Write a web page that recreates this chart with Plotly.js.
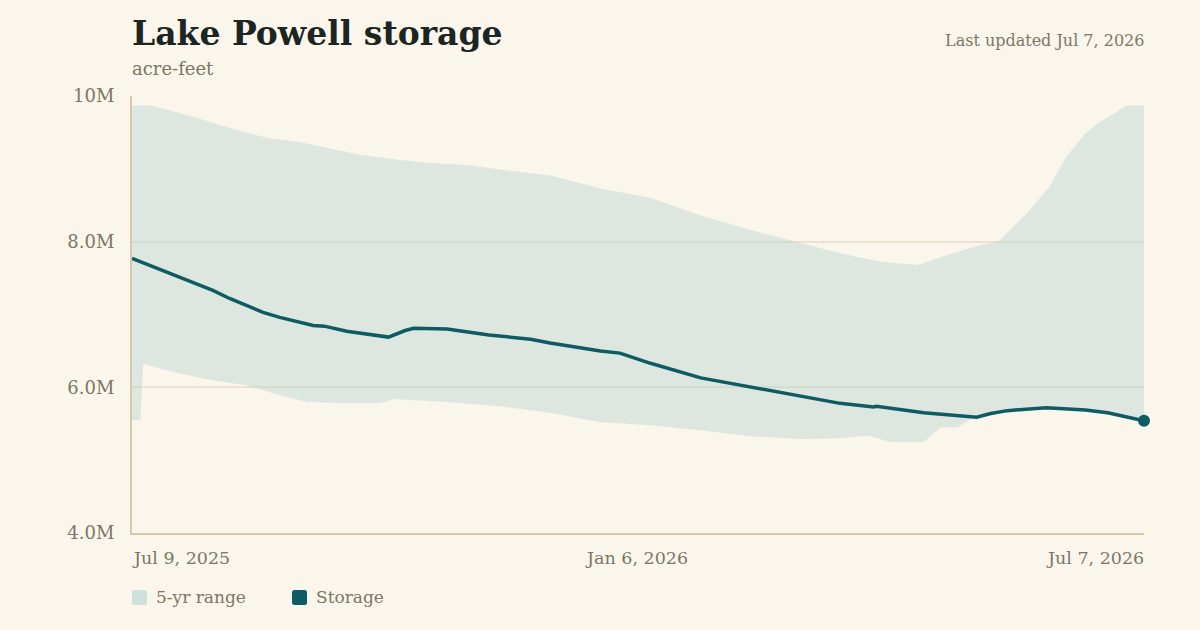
<!DOCTYPE html>
<html>
<head>
<meta charset="utf-8">
<script src="https://cdn.plot.ly/plotly-3.0.1.min.js"></script>
<style>
  html, body { margin: 0; padding: 0; background: #faf6ec; }
  #chart { width: 1200px; height: 630px; }
</style>
</head>
<body>
<div id="chart"></div>
<script>
// Lake Powell storage (acre-feet), current water year vs. 5-year range
const storageDates = [
  '2025-07-09','2025-07-26','2025-08-07','2025-08-13','2025-08-25','2025-08-31',
  '2025-09-12','2025-09-16','2025-09-24','2025-10-09','2025-10-15','2025-10-18',
  '2025-10-30','2025-11-14','2025-11-29','2025-12-06','2025-12-24','2025-12-31',
  '2026-01-11','2026-01-29','2026-02-16','2026-03-06','2026-03-20','2026-04-01',
  '2026-04-02','2026-04-19','2026-05-08','2026-05-13','2026-05-19','2026-06-02',
  '2026-06-16','2026-06-24','2026-07-07'
];
const storageAF = [
  7770000, 7510000, 7330000, 7220000, 7030000, 6960000,
  6850000, 6840000, 6770000, 6690000, 6780000, 6810000,
  6800000, 6720000, 6660000, 6610000, 6500000, 6470000,
  6330000, 6130000, 6000000, 5870000, 5780000, 5730000,
  5740000, 5650000, 5590000, 5640000, 5680000, 5720000,
  5690000, 5650000, 5540000
];

const rangeHighDates = [
  '2025-07-09','2025-07-16','2025-07-20','2025-08-02','2025-08-13','2025-08-20',
  '2025-08-27','2025-09-07','2025-09-18','2025-09-29','2025-10-13','2025-10-24',
  '2025-11-07','2025-11-18','2025-12-06','2025-12-24','2026-01-11','2026-01-29',
  '2026-02-16','2026-03-06','2026-03-20','2026-04-04','2026-04-17','2026-04-27',
  '2026-05-09','2026-05-16','2026-05-26','2026-06-03','2026-06-09','2026-06-16',
  '2026-06-21','2026-07-01','2026-07-07'
];
const rangeHighAF = [
  9870000, 9870000, 9830000, 9690000, 9560000, 9490000,
  9420000, 9370000, 9280000, 9190000, 9120000, 9080000,
  9050000, 8990000, 8910000, 8730000, 8600000, 8360000,
  8160000, 7980000, 7840000, 7720000, 7680000, 7810000,
  7950000, 8010000, 8390000, 8750000, 9160000, 9490000,
  9640000, 9870000, 9870000
];

const rangeLowDates = [
  '2025-07-09','2025-07-12','2025-07-13','2025-07-24','2025-08-06','2025-08-19',
  '2025-08-31','2025-09-10','2025-09-23','2025-10-06','2025-10-11','2025-10-30',
  '2025-11-18','2025-12-06','2025-12-24','2026-01-11','2026-01-29','2026-02-16',
  '2026-03-06','2026-03-20','2026-03-30','2026-04-07','2026-04-19','2026-04-25',
  '2026-05-01','2026-05-07','2026-05-19','2026-06-02','2026-06-16','2026-06-24',
  '2026-07-07'
];
const rangeLowAF = [
  5550000, 5550000, 6320000, 6210000, 6100000, 6030000,
  5890000, 5800000, 5780000, 5780000, 5840000, 5800000,
  5740000, 5650000, 5520000, 5480000, 5410000, 5330000,
  5290000, 5300000, 5340000, 5250000, 5250000, 5450000,
  5450000, 5590000, 5660000, 5710000, 5670000, 5640000,
  5535000
];

const axisLabels = [
  { date: '2025-07-09', text: 'Jul 9, 2025', anchor: 'left' },
  { date: '2026-01-06', text: 'Jan 6, 2026', anchor: 'center' },
  { date: '2026-07-07', text: 'Jul 7, 2026', anchor: 'right' }
];
const yTicks = [4000000, 6000000, 8000000, 10000000];

const SERIF = '"DejaVu Serif", Georgia, serif';
const BG = '#faf6ec';
const MUTED = '#7c7664';
const BAND = 'rgba(192,216,210,0.5)';
const LINE = '#0e5b63';

// closed polygon: high edge forward, low edge backward
const bandX = rangeHighDates.concat(rangeLowDates.slice().reverse());
const bandY = rangeHighAF.concat(rangeLowAF.slice().reverse());

const traces = [
  {
    x: bandX, y: bandY, type: 'scatter', mode: 'lines',
    fill: 'toself', fillcolor: BAND, line: { width: 0, color: 'rgba(0,0,0,0)' },
    hoverinfo: 'skip', showlegend: false
  },
  {
    x: storageDates, y: storageAF, type: 'scatter', mode: 'lines',
    line: { color: LINE, width: 3.5 }, showlegend: false
  },
  {
    x: storageDates.slice(-1), y: storageAF.slice(-1), type: 'scatter', mode: 'markers',
    marker: { color: LINE, size: 12 }, showlegend: false, cliponaxis: false
  }
];

function rounded(x, y, s, r) {
  return `M${x + r},${y} H${x + s - r} Q${x + s},${y} ${x + s},${y + r} V${y + s - r} ` +
         `Q${x + s},${y + s} ${x + s - r},${y + s} H${x + r} Q${x},${y + s} ${x},${y + s - r} ` +
         `V${y + r} Q${x},${y} ${x + r},${y} Z`;
}

const annotations = [
  { xref: 'paper', yref: 'paper', x: 0, y: 1, xanchor: 'left', yanchor: 'bottom',
    xshift: -2, yshift: 41, text: '<b>Lake Powell storage</b>', showarrow: false,
    font: { family: SERIF, size: 33, color: '#1c2521' } },
  { xref: 'paper', yref: 'paper', x: 0, y: 1, xanchor: 'left', yanchor: 'bottom',
    xshift: -2, yshift: 15, text: 'acre-feet', showarrow: false,
    font: { family: SERIF, size: 18, color: MUTED } },
  { xref: 'paper', yref: 'paper', x: 1, y: 1, xanchor: 'right', yanchor: 'bottom',
    xshift: 2, yshift: 44, text: 'Last updated Jul 7, 2026', showarrow: false,
    font: { family: SERIF, size: 16, color: MUTED } },
  { xref: 'paper', yref: 'paper', x: 0, y: 0, xanchor: 'left', yanchor: 'middle',
    xshift: 22, yshift: -64, text: '5-yr range', showarrow: false,
    font: { family: SERIF, size: 17, color: MUTED } },
  { xref: 'paper', yref: 'paper', x: 0, y: 0, xanchor: 'left', yanchor: 'middle',
    xshift: 182, yshift: -64, text: 'Storage', showarrow: false,
    font: { family: SERIF, size: 17, color: MUTED } }
].concat(axisLabels.map(a => ({
  xref: 'x', yref: 'paper', x: a.date, y: 0, xanchor: a.anchor, yanchor: 'middle',
  xshift: a.anchor === 'left' ? -2 : (a.anchor === 'right' ? 2 : 0),
  yshift: -25, text: a.text, showarrow: false,
  font: { family: SERIF, size: 17.5, color: MUTED }
})));

const shapes = [
  { type: 'path', xref: 'paper', yref: 'paper',
    xsizemode: 'pixel', ysizemode: 'pixel', xanchor: 0, yanchor: 0,
    path: rounded(0, -72, 15, 2.5), fillcolor: '#cfe0db', line: { width: 0 } },
  { type: 'path', xref: 'paper', yref: 'paper',
    xsizemode: 'pixel', ysizemode: 'pixel', xanchor: 0, yanchor: 0,
    path: rounded(160, -72, 15, 2.5), fillcolor: LINE, line: { width: 0 } }
];

const layout = {
  width: 1200, height: 630,
  paper_bgcolor: BG, plot_bgcolor: BG,
  margin: { l: 132, r: 56, t: 96, b: 97 },
  showlegend: false,
  font: { family: SERIF, color: MUTED },
  xaxis: {
    type: 'date', range: ['2025-07-09', '2026-07-07'],
    showgrid: false, showticklabels: false, ticks: '',
    showline: true, linecolor: '#d6c8a8', linewidth: 2, zeroline: false, fixedrange: true
  },
  yaxis: {
    range: [4000000, 10000000], tickvals: yTicks, tickformat: '.2s',
    showgrid: true, gridcolor: '#ebe2d0', gridwidth: 2,
    showline: true, linecolor: '#d6c8a8', linewidth: 2, zeroline: false,
    ticks: '', ticklabelstandoff: 12,
    tickfont: { family: SERIF, size: 18, color: MUTED }, fixedrange: true
  },
  annotations: annotations,
  shapes: shapes
};

Plotly.newPlot('chart', traces, layout, { staticPlot: true, displayModeBar: false });
</script>
</body>
</html>
